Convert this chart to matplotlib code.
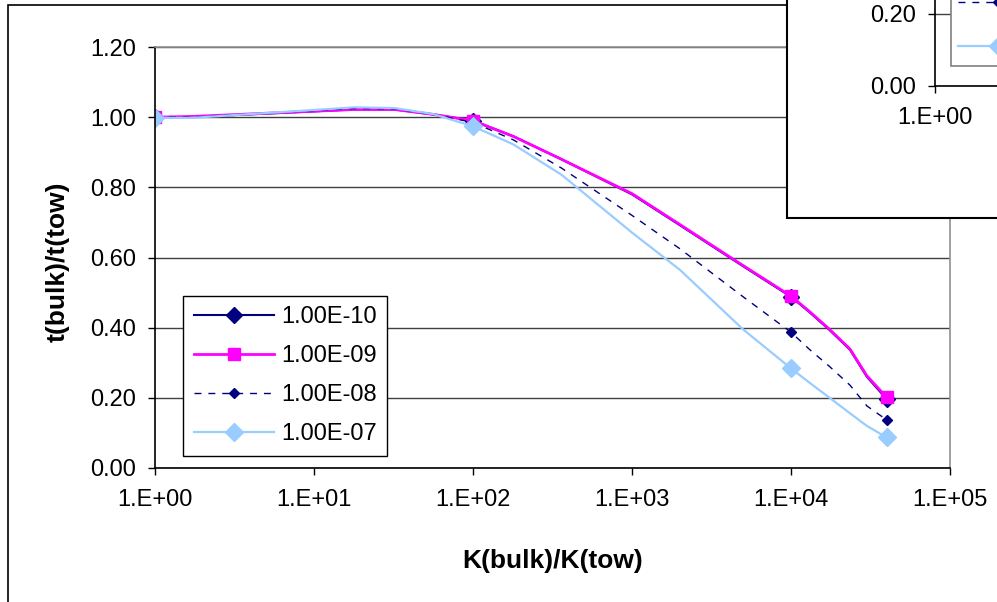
"""
Thickness ratio t(bulk)/t(tow) against permeability ratio K(bulk)/K(tow).
"""

import matplotlib
matplotlib.use('Agg')
import matplotlib.pyplot as plt
from matplotlib.lines import Line2D
from matplotlib.patches import Rectangle
import numpy as np

plt.rcParams['font.family'] = ['Liberation Sans', 'DejaVu Sans']

# data
k_ratio = [1, 1.7, 18, 32, 56, 100, 180, 360, 1000, 2000, 5000,
           10000, 13000, 17500, 23500, 30000, 40000]
marked = [0, 5, 11, 16]  # only these points carry a marker

t_1e10 = [1.000, 1.000, 1.022, 1.022, 1.008, 0.990, 0.945, 0.880, 0.780,
          0.692, 0.575, 0.488, 0.445, 0.393, 0.337, 0.260, 0.196]
t_1e09 = [1.000, 1.002, 1.022, 1.022, 1.008, 0.990, 0.945, 0.880, 0.782,
          0.694, 0.577, 0.490, 0.447, 0.395, 0.339, 0.263, 0.201]
t_1e08 = [1.000, 1.000, 1.025, 1.024, 1.008, 0.985, 0.935, 0.855, 0.720,
          0.625, 0.488, 0.387, 0.339, 0.289, 0.236, 0.177, 0.137]
t_1e07 = [0.998, 0.998, 1.028, 1.026, 1.009, 0.974, 0.922, 0.836, 0.671,
          0.565, 0.395, 0.284, 0.244, 0.200, 0.156, 0.120, 0.087]

labels = ['1.00E-10', '1.00E-09', '1.00E-08', '1.00E-07']
y_ticks = [0.0, 0.2, 0.4, 0.6, 0.8, 1.0, 1.2]
x_ticks = [1, 10, 100, 1000, 10000, 100000]

styles = [
    dict(color='#000080', ls='-', lw=1.5, marker='D', ms=8),
    dict(color='#FF00FF', ls='-', lw=2.0, marker='s', ms=8.5),
    dict(color='#000080', ls=(0, (5, 5)), lw=1.0, marker='D', ms=5),
    dict(color='#99CCFF', ls='-', lw=1.6, marker='D', ms=9),
]
series = [t_1e10, t_1e09, t_1e08, t_1e07]

W, H = 997, 602
FS = 17
fig = plt.figure(figsize=(W / 100, H / 100), dpi=100)


def px(x0, y0, x1, y1):
    """Pixel box (top-left origin) -> figure rect."""
    return [x0 / W, 1 - y1 / H, (x1 - x0) / W, (y1 - y0) / H]


def style_axes(ax, ylim, yt, xt):
    ax.set_xscale('log')
    ax.set_xlim(1, 1e5)
    ax.set_ylim(*ylim)
    ax.set_xticks(xt)
    ax.set_xticklabels([f"1.E+{int(round(np.log10(v))):02d}" for v in xt])
    ax.xaxis.set_minor_locator(matplotlib.ticker.NullLocator())
    ax.set_yticks(yt)
    ax.set_yticklabels([f"{v:.2f}" for v in yt])
    ax.tick_params(direction='out', length=5, width=1, colors='black',
                   labelsize=FS)
    ax.tick_params(axis='x', pad=10)
    ax.tick_params(axis='y', pad=8.5)
    ax.grid(axis='y', color='#404040', lw=1)
    ax.set_axisbelow(True)
    for s in ('left', 'bottom'):
        ax.spines[s].set_color('black')
        ax.spines[s].set_linewidth(1.2)
    for s in ('top', 'right'):
        ax.spines[s].set_color('#909090')
        ax.spines[s].set_linewidth(1.2)
    for ys, st, lab in zip(series, styles, labels):
        ax.plot(k_ratio, ys, markevery=marked, label=lab, mec=st['color'],
                mfc=st['color'], **st)


# outer frame of the chart area
fig.add_artist(Rectangle((8 / W, -0.5), 2, 1 - 5 / H + 0.5, fill=False,
                         ec='black', lw=1.2, transform=fig.transFigure))

ax = fig.add_axes(px(155, 47, 950, 468))
style_axes(ax, (0, 1.2), y_ticks, x_ticks)
ax.set_xlabel('K(bulk)/K(tow)', fontsize=19, fontweight='bold', va='center')
ax.xaxis.set_label_coords(0.5, (468 - 561) / 421)
ax.set_ylabel('t(bulk)/t(tow)', fontsize=19, fontweight='bold', va='center')
ax.yaxis.set_label_coords((58 - 155) / 795, 0.49)

proxies = [Line2D([], [], mec=st['color'], mfc=st['color'], **st)
           for st in styles]
leg = ax.legend(proxies, labels, loc='lower left', fontsize=FS,
                bbox_to_anchor=(183 / W, 1 - 456 / H),
                bbox_transform=fig.transFigure, borderaxespad=0,
                handlelength=3.4, handletextpad=0.3, labelspacing=0.72,
                borderpad=0.45, fancybox=False, framealpha=1)
leg.get_frame().set_edgecolor('black')
leg.get_frame().set_linewidth(1)

# second chart overlapping the top right corner
box = Rectangle((787 / W, 1 - 218 / H), 1, 1, fc='white', ec='black',
                lw=1.5, transform=fig.transFigure, zorder=1)
fig.add_artist(box)

ax_in = fig.add_axes(px(935, 0, 935 + 795, 86), zorder=2)
style_axes(ax_in, (0, 0.2 * 86 / 72), [0.0, 0.2], x_ticks[:1])
ax_in.spines['top'].set_visible(False)
ax_in.spines['right'].set_visible(False)
leg_in = ax_in.legend(proxies, [''] * len(labels), loc='lower left',
                      fontsize=FS, bbox_to_anchor=(951 / W, 1 - 66 / H),
                      bbox_transform=fig.transFigure, borderaxespad=0,
                      handlelength=3.4, handletextpad=0.3, labelspacing=0.9,
                      borderpad=0.3, fancybox=False, framealpha=1)
leg_in.get_frame().set_edgecolor('#808080')
leg_in.get_frame().set_linewidth(1.2)

fig.savefig('out.png', dpi=100)
plt.close(fig)
